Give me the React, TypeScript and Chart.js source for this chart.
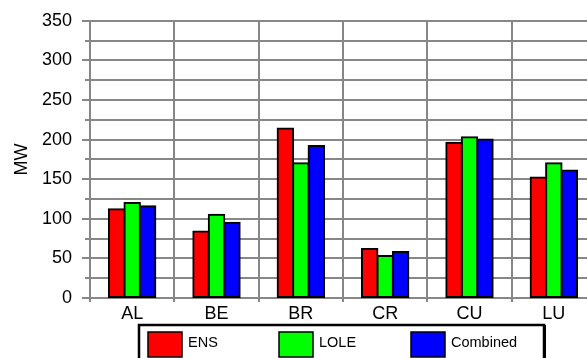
import React, { useEffect, useRef } from "react";
import { Chart, registerables } from "chart.js";

Chart.register(...registerables);

const regions = ["AL", "BE", "BR", "CR", "CU", "LU"];
const ensValues = [112, 84, 214, 62, 196, 152];
const loleValues = [120, 105, 170, 53, 203, 170];
const combinedValues = [116, 95, 192, 58, 200, 161];
const seriesNames = ["ENS", "LOLE", "Combined"];
const seriesColors = ["#ff0000", "#00ff00", "#0000ff"];

const GRID = "#878787";
const FONT = "'Liberation Sans', Arial, sans-serif";

// Boxed legend below the axis, plus the short minor ticks at every 25 MW.
const decorPlugin = {
  id: "decor",
  afterDraw(chart: any) {
    const { ctx, chartArea, scales } = chart;
    const y = scales.y;
    ctx.save();

    // minor ticks crossing the value axis
    ctx.strokeStyle = GRID;
    ctx.lineWidth = 2;
    for (let v = 25; v < 350; v += 50) {
      const py = Math.round(y.getPixelForValue(v));
      ctx.beginPath();
      ctx.moveTo(chartArea.left - 5, py);
      ctx.lineTo(chartArea.left + 7, py);
      ctx.stroke();
    }

    // legend frame
    const boxLeft = 139;
    const boxTop = 325;
    const boxRight = 544;
    ctx.strokeStyle = "#000";
    ctx.lineWidth = 2.5;
    ctx.strokeRect(boxLeft, boxTop, boxRight - boxLeft, 60);
    ctx.fillStyle = "#000";
    ctx.fillRect(boxRight, boxTop, 2, 60);

    const swatchX = [148, 279, 411];
    ctx.font = `14.5px ${FONT}`;
    ctx.textBaseline = "middle";
    ctx.textAlign = "left";
    seriesNames.forEach((name, i) => {
      const sx = swatchX[i];
      ctx.fillStyle = seriesColors[i];
      ctx.fillRect(sx, 332, 34, 25);
      ctx.strokeStyle = "#000";
      ctx.lineWidth = 1.5;
      ctx.strokeRect(sx, 332, 34, 25);
      ctx.fillStyle = "#000";
      ctx.fillText(name, sx + 40, 343);
    });
    ctx.restore();
  },
};

export default function App() {
  const canvasRef = useRef<HTMLCanvasElement | null>(null);

  useEffect(() => {
    if (!canvasRef.current) return;
    Chart.defaults.font.family = FONT;
    Chart.defaults.color = "#000";

    const seriesData = [ensValues, loleValues, combinedValues];
    const chart = new Chart(canvasRef.current, {
      type: "bar",
      data: {
        labels: regions,
        datasets: seriesNames.map((name, i) => ({
          label: name,
          data: seriesData[i],
          backgroundColor: seriesColors[i],
          borderColor: "#000",
          borderWidth: 2,
          borderSkipped: false,
          inflateAmount: 1,
          categoryPercentage: 0.55,
          barPercentage: 1,
        })),
      },
      options: {
        responsive: false,
        animation: false,
        devicePixelRatio: 1,
        layout: { padding: { top: 20, left: 0, right: 4, bottom: 0 } },
        plugins: {
          legend: { display: false },
          tooltip: { enabled: false },
        },
        scales: {
          x: {
            afterFit: (scale: any) => {
              scale.height = 60;
            },
            grid: {
              color: GRID,
              lineWidth: 2,
              tickLength: 4,
              offset: true,
            },
            border: { color: GRID, width: 2 },
            ticks: { font: { size: 18 }, padding: 1, color: "#000" },
          },
          y: {
            min: 0,
            max: 350,
            afterFit: (scale: any) => {
              scale.width = 90;
            },
            grid: {
              color: GRID,
              lineWidth: 2,
              tickLength: 8,
              tickColor: (c: any) =>
                c.tick && c.tick.value % 50 === 0 ? GRID : "rgba(0,0,0,0)",
            },
            border: { color: GRID, width: 2 },
            ticks: {
              stepSize: 25,
              autoSkip: false,
              padding: 10,
              font: { size: 18 },
              color: "#000",
              callback: (v: any) => (Number(v) % 50 === 0 ? String(v) : ""),
            },
            title: {
              display: true,
              text: "MW",
              font: { size: 18 },
              color: "#000",
              padding: { top: 11, bottom: 0 },
            },
          },
        },
      },
      plugins: [decorPlugin],
    });
    return () => chart.destroy();
  }, []);

  return (
    <div
      style={{
        position: "fixed",
        left: 0,
        top: 0,
        width: 587,
        height: 358,
        overflow: "hidden",
        background: "#fff",
      }}
    >
      <canvas ref={canvasRef} width={600} height={358} style={{ display: "block" }} />
    </div>
  );
}
